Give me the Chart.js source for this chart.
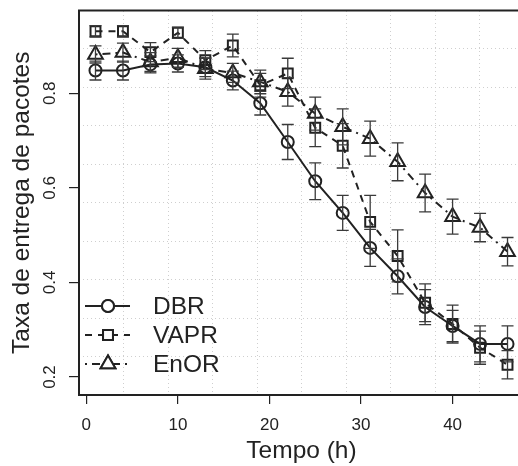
<!DOCTYPE html>
<html>
<head>
<meta charset="utf-8">
<script src="https://cdn.jsdelivr.net/npm/chart.js@4.4.1/dist/chart.umd.min.js"></script>
<style>
  html, body { margin: 0; padding: 0; background: #fff; overflow: hidden; }
  #wrap { width: 540px; height: 466px; }
</style>
</head>
<body>
<div id="wrap"><canvas id="chart" width="540" height="466"></canvas></div>
<script>
// Data
const times = [1, 4, 7, 10, 13, 16, 19, 22, 25, 28, 31, 34, 37, 40, 43, 46];

const dbrValues = [0.848, 0.848, 0.861, 0.863, 0.855, 0.827, 0.779, 0.697, 0.614, 0.547, 0.473, 0.413, 0.348, 0.308, 0.270, 0.270];
const dbrErrors = [0.02, 0.02, 0.018, 0.018, 0.02, 0.02, 0.025, 0.037, 0.039, 0.037, 0.039, 0.037, 0.037, 0.033, 0.038, 0.038];

const vaprValues = [0.931, 0.931, 0.887, 0.928, 0.870, 0.901, 0.817, 0.842, 0.727, 0.689, 0.528, 0.456, 0.357, 0.312, 0.262, 0.226];
const vaprErrors = [0.012, 0.012, 0.02, 0.012, 0.02, 0.024, 0.025, 0.032, 0.04, 0.047, 0.056, 0.055, 0.04, 0.04, 0.035, 0.03];

const enorValues = [0.882, 0.886, 0.866, 0.875, 0.852, 0.843, 0.824, 0.803, 0.757, 0.729, 0.704, 0.655, 0.589, 0.539, 0.516, 0.465];
const enorErrors = [0.018, 0.02, 0.02, 0.02, 0.022, 0.02, 0.025, 0.03, 0.035, 0.038, 0.037, 0.04, 0.04, 0.037, 0.03, 0.03];

const seriesNames = ['DBR', 'VAPR', 'EnOR'];
const xTickValues = [0, 10, 20, 30, 40];
const yTickValues = [0.2, 0.4, 0.6, 0.8];
const gridDivisions = 10;

const ink = '#222';
const fontFamily = "'Liberation Sans', Arial, Helvetica, sans-serif";
Chart.defaults.font.family = fontFamily;
Chart.defaults.color = ink;

function toPoints(values) {
  return times.map((t, i) => ({ x: t, y: values[i] }));
}

const errorSets = [dbrErrors, vaprErrors, enorErrors];

// Error bars drawn through the chart's own scales
const errorBarPlugin = {
  id: 'errorBars',
  afterDatasetsDraw(chart) {
    const ctx = chart.ctx;
    const yScale = chart.scales.y;
    ctx.save();
    ctx.strokeStyle = '#3a3a3a';
    ctx.lineWidth = 1.3;
    chart.data.datasets.forEach((ds, i) => {
      const meta = chart.getDatasetMeta(i);
      meta.data.forEach((pt, j) => {
        const v = ds.data[j].y;
        const e = errorSets[i][j];
        const top = yScale.getPixelForValue(v + e);
        const bot = yScale.getPixelForValue(v - e);
        ctx.beginPath();
        ctx.moveTo(pt.x, top); ctx.lineTo(pt.x, bot);
        ctx.moveTo(pt.x - 6, top); ctx.lineTo(pt.x + 6, top);
        ctx.moveTo(pt.x - 6, bot); ctx.lineTo(pt.x + 6, bot);
        ctx.stroke();
      });
    });
    ctx.restore();
  }
};

// Frame, rotated y tick labels and legend inside the plot
const decorPlugin = {
  id: 'decor',
  afterDraw(chart) {
    const ctx = chart.ctx;
    const area = chart.chartArea;
    const yScale = chart.scales.y;
    ctx.save();
    ctx.strokeStyle = ink;
    ctx.lineWidth = 2;
    ctx.strokeRect(area.left, area.top, area.right - area.left, area.bottom - area.top);

    ctx.fillStyle = ink;
    ctx.font = '17px ' + fontFamily;
    ctx.textAlign = 'center';
    ctx.textBaseline = 'middle';
    yTickValues.forEach(v => {
      ctx.save();
      ctx.translate(area.left - 29, yScale.getPixelForValue(v));
      ctx.rotate(-Math.PI / 2);
      ctx.fillText(v.toFixed(1), 0, 0);
      ctx.restore();
    });

    // legend
    const lx = area.left + 6;
    let ly = area.bottom - 89;
    chart.data.datasets.forEach((ds, i) => {
      ctx.save();
      ctx.strokeStyle = ds.borderColor;
      ctx.lineWidth = ds.borderWidth;
      ctx.setLineDash(ds.borderDash || []);
      ctx.beginPath();
      ctx.moveTo(lx, ly); ctx.lineTo(lx + 45, ly);
      ctx.stroke();
      ctx.setLineDash([]);
      ctx.fillStyle = '#fff';
      Chart.helpers.drawPoint(ctx, {
        pointStyle: ds.pointStyle, radius: ds.pointRadius, borderWidth: ds.pointBorderWidth, rotation: 0
      }, lx + 23, ly);
      ctx.fill();
      ctx.stroke();
      ctx.restore();
      ctx.fillStyle = ink;
      ctx.font = '24.5px ' + fontFamily;
      ctx.textAlign = 'left';
      ctx.fillText(ds.label, lx + 68, ly + 1);
      ly += 29;
    });
    ctx.restore();
  }
};

const baseSeries = {
  borderColor: ink,
  pointBorderColor: ink,
  pointBackgroundColor: 'rgba(255,255,255,0)',
  borderWidth: 2,
  pointBorderWidth: 2,
  tension: 0,
  fill: false
};

new Chart(document.getElementById('chart'), {
  type: 'line',
  data: {
    datasets: [
      Object.assign({}, baseSeries, { label: seriesNames[0], data: toPoints(dbrValues), pointStyle: 'circle', pointRadius: 6 }),
      Object.assign({}, baseSeries, { label: seriesNames[1], data: toPoints(vaprValues), pointStyle: 'rect', pointRadius: 7, borderDash: [7, 6] }),
      Object.assign({}, baseSeries, { label: seriesNames[2], data: toPoints(enorValues), pointStyle: 'triangle', pointRadius: 8.5, borderDash: [2, 5, 8, 5] })
    ]
  },
  options: {
    responsive: false,
    devicePixelRatio: 1,
    animation: false,
    events: [],
    layout: { padding: { top: 10, right: 16, left: 0, bottom: 0 } },
    plugins: { legend: { display: false }, tooltip: { enabled: false } },
    scales: {
      x: {
        type: 'linear',
        min: -0.8,
        max: 47.8,
        afterBuildTicks: s => { s.ticks = xTickValues.map(v => ({ value: v })); },
        afterFit: s => { s.height = 71; },
        ticks: { font: { size: 17 }, padding: 11, color: ink, maxRotation: 0 },
        grid: { drawOnChartArea: false, drawTicks: true, tickLength: 9, color: ink, lineWidth: 1.2 },
        border: { display: false },
        title: { display: true, text: 'Tempo (h)', font: { size: 24.5 }, color: ink, padding: { top: 0, bottom: 0 } }
      },
      y: {
        type: 'linear',
        min: 0.162,
        max: 0.975,
        afterBuildTicks: s => { s.ticks = yTickValues.map(v => ({ value: v })); },
        afterFit: s => { s.width = 79; },
        ticks: { display: false },
        grid: { drawOnChartArea: false, drawTicks: true, tickLength: 10, color: ink, lineWidth: 1.2 },
        border: { display: false },
        title: { display: true, text: 'Taxa de entrega de pacotes', font: { size: 24.5 }, color: ink, padding: { top: 8, bottom: 0 } }
      },
      gx: {
        type: 'linear', position: 'top', min: 0, max: gridDivisions,
        ticks: { display: false, stepSize: 1 },
        grid: { drawTicks: false, color: '#cfcfcf', lineWidth: 1 },
        border: { display: false, dash: [1, 3] }
      },
      gy: {
        type: 'linear', position: 'right', min: 0, max: gridDivisions,
        ticks: { display: false, stepSize: 1 },
        grid: { drawTicks: false, color: '#cfcfcf', lineWidth: 1 },
        border: { display: false, dash: [1, 3] }
      }
    }
  },
  plugins: [errorBarPlugin, decorPlugin]
});
</script>
</body>
</html>
